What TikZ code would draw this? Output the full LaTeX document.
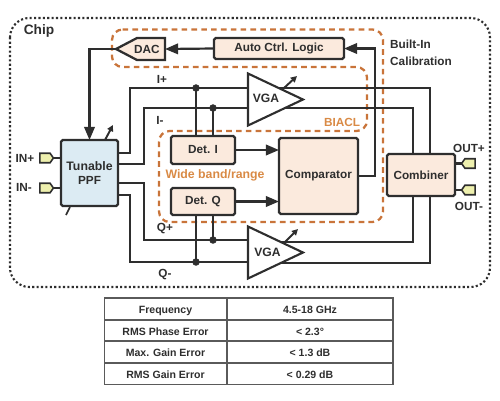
\documentclass[tikz,border=0pt]{standalone}
\usepackage{fontspec}
\setmainfont{Liberation Sans}
\usepackage{xcolor}
\usetikzlibrary{shapes.geometric, shapes.symbols, arrows.meta, positioning, calc}
\definecolor{framecol}{HTML}{2E2E2E}
\definecolor{loopcol}{HTML}{C9743A}
\definecolor{labelcol}{HTML}{D98A45}
\definecolor{blockcol}{HTML}{FBEADD}
\definecolor{ppfcol}{HTML}{DCEBF3}
\definecolor{portcol}{HTML}{EEF0AE}
\definecolor{gridcol}{HTML}{5A5A5A}

\begin{document}
\begin{tikzpicture}[
x=0.02cm,
y=-0.02cm,
font=\fontsize{6.7}{8}\selectfont\bfseries,
every node/.style={text=framecol},
blockbox/.style={
rectangle,
rounded corners=1pt,
draw=framecol,
line width=1.3pt,
fill=blockcol,
align=center,
inner sep=0pt,
outer sep=0pt
},
vgabox/.style={
isosceles triangle,
isosceles triangle stretches,
draw=framecol,
line width=1.2pt,
fill=white,
anchor=west,
inner sep=0pt,
outer sep=0pt,
minimum width=1.04cm,
minimum height=1.1cm
},
portbox/.style={
signal,
signal pointer angle=110,
draw=framecol,
line width=0.9pt,
fill=portcol,
inner sep=0pt,
outer sep=0pt,
minimum width=0.27cm,
minimum height=0.19cm
},
cellbox/.style={
rectangle,
draw=gridcol,
line width=0.9pt,
inner sep=0pt,
outer sep=0pt,
minimum height=0.434cm,
text height=0.72em,
text depth=0.2em,
font=\fontsize{6}{7}\selectfont\bfseries
},
wire/.style={draw=framecol, line width=1.25pt},
feed/.style={wire, -{Triangle[length=7.5pt,width=6pt]}},
tune/.style={draw=framecol, line width=1.1pt, -{Triangle[length=3.5pt,width=3.5pt]}},
dot/.style={circle, fill=framecol, draw=framecol, line width=0.4pt, inner sep=0pt, outer sep=0pt, minimum size=3.8pt}
]
\useasboundingbox (0,0) rectangle (500,400);

% Chip outline and calibration loop
\draw[framecol, line width=1.2pt, dash pattern=on 1.2pt off 1.3pt, rounded corners=11pt]
  (10,18) rectangle (490,287);
\draw[loopcol, line width=1.3pt, dash pattern=on 3.2pt off 2.4pt, rounded corners=6pt]
  (112,29.5) -- (383,29.5) -- (383,222) -- (159,222) -- (159,131) -- (367,131)
  -- (367,67) -- (112,67) -- cycle;

% Blocks
\node[blockbox, fill=ppfcol, minimum width=1.14cm, minimum height=1.32cm] (ppf) at (89.5,173)
{\fontsize{7}{9.6}\selectfont Tunable\\PPF};
\node[blockbox, minimum width=2.6cm, minimum height=0.42cm] (auto) at (279,48.5) {Auto Ctrl. Logic};
\node[blockbox, minimum width=1.28cm, minimum height=0.56cm] (deti) at (203,150) {Det. I};
\node[blockbox, minimum width=1.28cm, minimum height=0.54cm] (detq) at (203,201.5) {Det. Q};
\node[blockbox, minimum width=1.58cm, minimum height=1.52cm] (comparator) at (318.5,176) {Comparator};
\node[blockbox, minimum width=1.36cm, minimum height=0.84cm] (combiner) at (421,175) {Combiner};

% DAC outline, its tip and input are named for the wires
\coordinate (dactip) at (116,49);
\coordinate (dacin) at (165,49);
\draw[draw=framecol, line width=1.3pt, fill=blockcol] (dactip) -- (137,38) -- (165,38) -- (165,60) -- (137,60) -- cycle;
\node (dac) at (147,49) {DAC};

% Branch points
\node[dot] (dotip) at (196,88) {};
\node[dot] (dotim) at (213,108) {};
\node[dot] (dotqp) at (213,240) {};
\node[dot] (dotqm) at (196,262) {};
\coordinate (ppfip) at (118,153);
\coordinate (ppfim) at (118,164);
\coordinate (ppfqp) at (118,183);
\coordinate (ppfqm) at (118,195);

% Outputs run under the amplifiers
\draw[wire] (274,88) -| (430,154);
\draw[wire] (274,108) -| (413,154);
\draw[wire] (274,242) -| (413,196);
\draw[wire] (274,263) -| (430,196);

% Inputs from the PPF
\draw[wire] (ppfip) -- ++(12,0) |- (dotip) -- (248,88);
\draw[wire] (ppfim) -- ++(26,0) |- (dotim) -- (248,108);
\draw[wire] (ppfqp) -- ++(26,0) |- (dotqp) -- (248,240);
\draw[wire] (ppfqm) -- ++(12,0) |- (dotqm) -- (248,262);
\draw[wire] (dotip) -- (dotip |- deti.north);
\draw[wire] (dotim) -- (dotim |- deti.north);
\draw[wire] (dotqp) -- (dotqp |- detq.south);
\draw[wire] (dotqm) -- (dotqm |- detq.south);

% Amplifiers
\node[vgabox] (vgaup) at (248,99.5) {};
\node[vgabox] (vgadown) at (248,252.5) {};
\node (vgauplabel) at (266,98) {\fontsize{6.9}{8}\selectfont VGA};
\node (vgadownlabel) at (267.5,252) {\fontsize{6.9}{8}\selectfont VGA};

% Feedback and detector paths
\draw[feed] (auto.west) -- (dacin);
\draw[feed] (dactip) -| (ppf.north);
\draw[feed] (comparator.east) -- ++(17,0) |- (auto.east);
\draw[feed] (deti.east) -- (comparator.west |- deti.east);
\draw[feed] (detq.east) -- (comparator.west |- detq.east);

% Tuning marks
\draw[tune] (105,140) -- (113,125);
\draw[tune] (284,88) -- (297,76);
\draw[tune] (285,242) -- (298,229);
\draw[framecol, line width=0.9pt] (66,215) -- (70,207);

% Ports
\node[portbox, signal to=east] (inp) at (45,158) {};
\node[portbox, signal to=east] (inm) at (45,188) {};
\node[portbox, signal to=west] (outp) at (470,163.5) {};
\node[portbox, signal to=west] (outm) at (470,190) {};
\draw[wire] (inp.east) -- (inp.east -| ppf.west);
\draw[wire] (inm.east) -- (inm.east -| ppf.west);
\draw[wire] (outp.west) -- (outp.west -| combiner.east);
\draw[wire] (outm.west) -- (outm.west -| combiner.east);

% Labels
\node[font=\fontsize{7.8}{9}\selectfont\bfseries] (chiplabel) at (39,31) {Chip};
\node[anchor=west, align=left, font=\fontsize{6.7}{9.6}\selectfont\bfseries] (calib) at (384,53) {Built-In\\Calibration};
\node[text=labelcol] (biacl) at (342,122) {BIACL};
\node[text=labelcol, font=\fontsize{7}{8}\selectfont\bfseries] (wideband) at (215,175) {Wide band/range};
\node (iplus) at (162,79) {I+};
\node (iminus) at (160,120) {I-};
\node (qplus) at (165,229) {Q+};
\node (qminus) at (165,275) {Q-};
\node (inplus) at (25,158) {IN+};
\node (inminus) at (24,187) {IN-};
\node (outplus) at (469,148) {OUT+};
\node (outminus) at (469,206) {OUT-};

% Specification table
\node[cellbox, minimum width=2.44cm] (freq) at (165.5,309) {Frequency};
\node[cellbox, minimum width=3.32cm] (freqval) at (310,309) {4.5-18 GHz};
\node[cellbox, minimum width=2.44cm] (phase) at (165.5,330.5) {RMS Phase Error};
\node[cellbox, minimum width=3.32cm] (phaseval) at (310,330.5) {< 2.3°};
\node[cellbox, minimum width=2.44cm] (maxgain) at (165.5,352) {Max. Gain Error};
\node[cellbox, minimum width=3.32cm] (maxgainval) at (310,352) {< 1.3 dB};
\node[cellbox, minimum width=2.44cm] (rmsgain) at (165.5,373.5) {RMS Gain Error};
\node[cellbox, minimum width=3.32cm] (rmsgainval) at (310,373.5) {< 0.29 dB};

\end{tikzpicture}
\end{document}
